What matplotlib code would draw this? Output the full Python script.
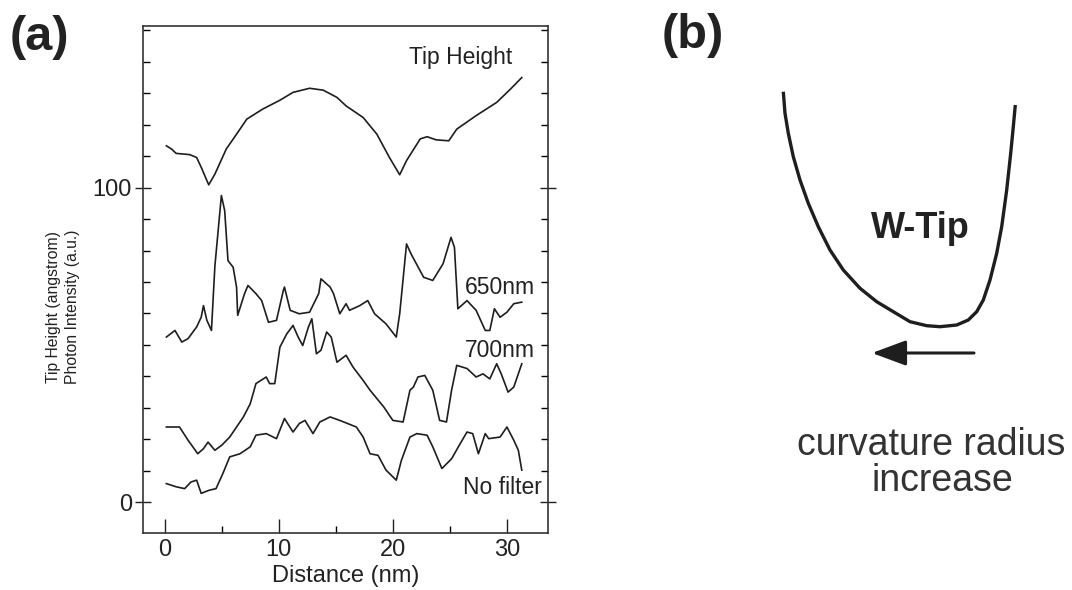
import numpy as np
import matplotlib
matplotlib.use("Agg")
import matplotlib.pyplot as plt
from matplotlib.ticker import MultipleLocator, FixedLocator

plt.rcParams['font.family'] = ['Liberation Sans', 'DejaVu Sans']

# ---- panel (a) data ----
tip_x = [0.15, 0.6, 1.0, 2.2, 2.8, 3.2, 3.86, 4.4, 5.4, 6.3, 7.2, 8.6, 10.1, 11.25,
         12.7, 13.9, 15.1, 15.9, 17.4, 18.6, 19.7, 20.6, 21.2, 22.4, 23.0, 23.8,
         24.9, 25.6, 27.3, 29.1, 30.3, 31.3]
tip_y = [113.3, 112.3, 110.9, 110.5, 109.6, 106.5, 100.9, 104.3, 112.3, 117, 121.8,
         125, 127.8, 130.3, 131.6, 131, 128.7, 126, 122.3, 117, 109.6, 104.1, 108.6,
         115.5, 116.2, 115.2, 114.9, 118.6, 122.9, 127.1, 131.3, 135]

nm650_x = [0.15, 0.9, 1.5, 2.05, 2.8, 3.2, 3.4, 3.7, 4.1, 4.4, 4.97, 5.26, 5.55, 6.0,
           6.3, 6.4, 7.0, 7.3, 8.0, 8.5, 9.1, 9.8, 10.4, 10.5, 11.0, 11.8, 12.7, 13.5,
           13.7, 14.5, 14.8, 15.35, 15.9, 16.2, 17.1, 17.8, 18.4, 19.4, 20.3, 20.6,
           21.2, 21.6, 22.7, 23.5, 24.4, 25.1, 25.4, 25.7, 26.5, 27.3, 28.1, 28.5,
           28.9, 29.4, 30.0, 30.6, 31.3]
nm650_y = [52.5, 54.6, 50.9, 52, 55.7, 58.8, 62.5, 57.8, 54.6, 75, 97.5, 92.7, 76.8,
           74.7, 68.4, 59.4, 66.3, 68.9, 66.3, 64.1, 57.2, 57.8, 67.3, 68.4, 61, 59.9,
           60.4, 66.3, 71, 68.4, 66.3, 59.9, 63.1, 61, 62.5, 64.1, 59.9, 56.7, 52.5,
           59.9, 82.1, 78.9, 71.5, 70.5, 75.8, 84.2, 81, 61.5, 64.1, 61, 54.6, 54.6,
           61.5, 58.8, 60.4, 63.1, 63.6]

nm700_x = [0.15, 1.3, 2.05, 2.9, 3.4, 3.8, 4.4, 5.0, 5.7, 6.3, 6.9, 7.5, 8.0, 8.9, 9.2,
           9.65, 10.1, 10.7, 11.25, 11.7, 12.1, 12.6, 12.9, 13.3, 13.7, 14.2, 14.6,
           15.1, 15.9, 16.5, 17.4, 18.0, 19.2, 20.0, 20.9, 21.5, 21.8, 22.2, 22.8,
           23.5, 24.1, 24.7, 25.15, 25.6, 26.5, 27.3, 27.9, 28.5, 29.1, 29.5, 30.1,
           30.6, 30.8, 31.3]
nm700_y = [23.9, 23.9, 19.7, 15.4, 17, 19.1, 16.5, 18.1, 20.7, 23.9, 27.1, 31.3, 37.7,
           39.8, 37.7, 37.7, 49.3, 53.5, 56.2, 52.5, 49.8, 55.7, 58.3, 47.2, 48.3,
           54.1, 52.5, 44.5, 46.7, 43, 38.7, 35.6, 30.3, 26, 25.5, 35.6, 36.6, 39.8,
           40.3, 35.6, 26, 25.5, 35.6, 43.5, 42.5, 39.8, 40.8, 39.2, 44, 40.8, 35,
           36.6, 38.7, 44]

nofilt_x = [0.15, 1.0, 1.75, 2.3, 2.8, 3.2, 3.9, 4.5, 5.1, 5.7, 6.6, 7.5, 8.0, 8.9,
            9.8, 10.5, 11.25, 11.8, 12.3, 13.0, 13.6, 14.5, 15.35, 16.8, 17.4, 18.0,
            18.7, 19.4, 20.3, 20.75, 21.5, 22.1, 23.0, 23.5, 24.3, 25.15, 25.9, 26.5,
            27.0, 27.5, 28.1, 28.4, 29.4, 30.0, 30.6, 31.0, 31.3]
nofilt_y = [5.9, 4.9, 4.3, 6.4, 7, 2.8, 3.8, 4.3, 9.1, 14.4, 15.4, 17.6, 21.3, 21.8,
            20.2, 26.6, 22.3, 25, 26, 21.8, 25.5, 27.1, 26, 23.9, 20.7, 15.4, 14.9,
            10.2, 7, 13.3, 20.7, 21.8, 21.3, 17.6, 10.7, 13.8, 18.6, 22.3, 21.8, 15.4,
            21.8, 20.2, 20.7, 23.9, 19.7, 16.5, 10.2]

curve_labels = ["Tip Height", "650nm", "700nm", "No filter"]
label_x = [25.9, 29.4, 29.4, 29.6]
label_y = [141.5, 68.3, 48.3, 4.8]

# ---- panel (b) tip outline, in picture pixel units ----
wtip_x = [783.3, 785, 788.3, 793.3, 800, 808.3, 818.3, 830, 843.3, 860, 876.7,
          893.3, 910, 926.7, 940, 956.7, 968.3, 976.7, 983.3, 990, 996.7, 1001.7,
          1006.7, 1010.7, 1013.3, 1015.3]
wtip_y = [91.7, 113.3, 133.3, 156.7, 180, 203.3, 226.7, 250, 270, 288.3, 301.7,
          311.7, 321.7, 325.7, 326.7, 325, 320, 311.7, 300, 280, 253.3, 226.7,
          190, 153.3, 126.7, 105]

W, H = 1072, 590
fig = plt.figure(figsize=(W / 100, H / 100), dpi=100)

ax = fig.add_axes([143 / W, 1 - 533 / H, 405 / W, 507 / H])
line_kw = dict(color='#1e1e1e', lw=1.2)
ax.plot(tip_x, tip_y, **line_kw)
ax.plot(nm650_x, nm650_y, **line_kw)
ax.plot(nm700_x, nm700_y, **line_kw)
ax.plot(nofilt_x, nofilt_y, **line_kw)
for t, lx, ly in zip(curve_labels, label_x, label_y):
    ax.text(lx, ly, t, fontsize=16.5, ha='center', va='center', color='#222222')

ax.set_xlim(-1.9, 33.6)
ax.set_ylim(-9.8, 151.4)
ax.xaxis.set_major_locator(FixedLocator([0, 10, 20, 30]))
ax.xaxis.set_minor_locator(FixedLocator([5, 15, 25]))
ax.yaxis.set_major_locator(FixedLocator([0, 100]))
ax.yaxis.set_minor_locator(MultipleLocator(10))
ax.tick_params(axis='x', which='major', direction='in', length=10, width=1,
               labelsize=17, pad=4, colors='#222222')
ax.tick_params(axis='x', which='minor', direction='in', length=5, width=1)
ax.tick_params(axis='y', which='major', direction='inout', length=12, width=1,
               labelsize=17, pad=2, right=True, colors='#222222')
ax.tick_params(axis='y', which='minor', direction='in', length=5, width=1, right=True)
for s in ax.spines.values():
    s.set_linewidth(1.2)
    s.set_color('#333333')
ax.set_xlabel("Distance (nm)", fontsize=17, labelpad=3, color='#222222')

fig.text(63 / W, 1 - 307 / H, "Tip Height (angstrom)\nPhoton Intensity (a.u.)",
         rotation=90, ha='center', va='center', fontsize=11.3, color='#222222',
         linespacing=1.35)
fig.text(39 / W, 1 - 38 / H, "(a)", fontsize=35, fontweight='bold',
         ha='center', va='center', color='#222222')
fig.text(693 / W, 1 - 35 / H, "(b)", fontsize=35, fontweight='bold',
         ha='center', va='center', color='#222222')

# ---- panel (b) ----
axb = fig.add_axes([640 / W, 0, (W - 640) / W, 1])
axb.set_xlim(640, W)
axb.set_ylim(H, 0)
axb.axis('off')
axb.plot(wtip_x, wtip_y, color='#1e1e1e', lw=2.4, solid_capstyle='butt',
         solid_joinstyle='round')
axb.annotate("", xy=(872, 353), xytext=(974, 353),
             arrowprops=dict(arrowstyle='-|>,head_length=1.4,head_width=0.52',
                             mutation_scale=15, color='#1e1e1e', lw=2.2,
                             shrinkA=0, shrinkB=0))
axb.text(920, 228, "W-Tip", fontsize=26, fontweight='bold', ha='center',
         va='center', color='#222222')
axb.text(931, 445, "curvature radius", fontsize=27, ha='center', va='center',
         color='#333333')
axb.text(942, 481, "increase", fontsize=27, ha='center', va='center',
         color='#333333')

fig.savefig("out.png", dpi=100)
